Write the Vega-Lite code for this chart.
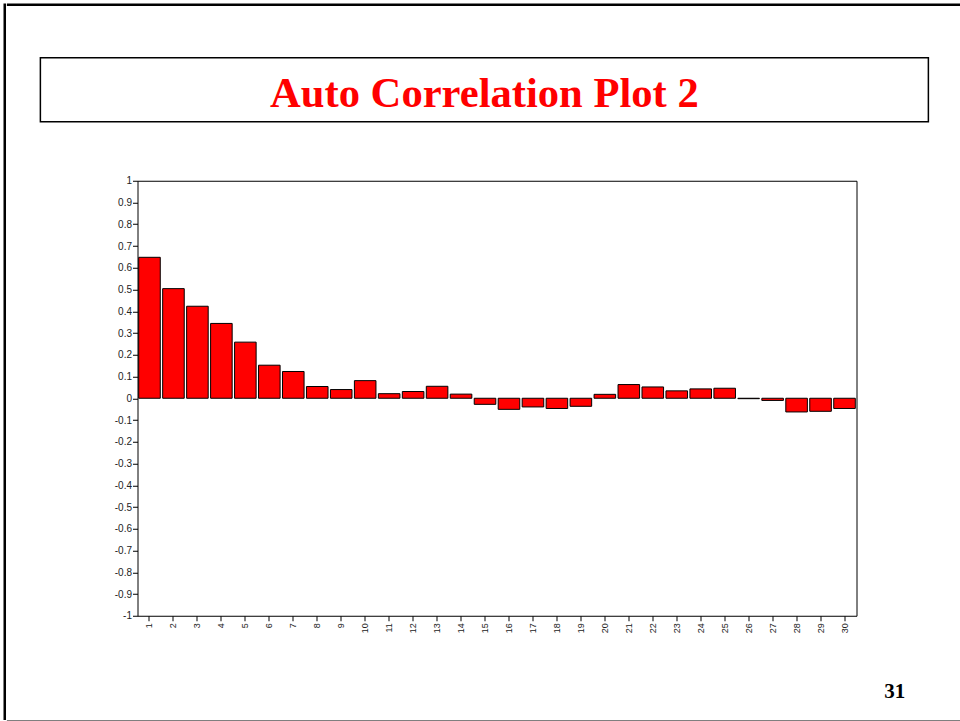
{
  "$schema": "https://vega.github.io/schema/vega-lite/v6.json",
  "padding": {"left": 2.75, "top": 2.75, "right": 0, "bottom": 0},
  "background": "white",
  "config": {
    "view": {"stroke": null},
    "axis": {"labelFont": "Liberation Sans", "labelColor": "#222222", "tickColor": "#000000", "domain": false, "grid": false}
  },
  "datasets": {
    "acf": [
      {"lag": 1, "acf": 0.648}, {"lag": 2, "acf": 0.504}, {"lag": 3, "acf": 0.423},
      {"lag": 4, "acf": 0.344}, {"lag": 5, "acf": 0.258}, {"lag": 6, "acf": 0.152},
      {"lag": 7, "acf": 0.123}, {"lag": 8, "acf": 0.054}, {"lag": 9, "acf": 0.04},
      {"lag": 10, "acf": 0.081}, {"lag": 11, "acf": 0.021}, {"lag": 12, "acf": 0.031},
      {"lag": 13, "acf": 0.055}, {"lag": 14, "acf": 0.019}, {"lag": 15, "acf": -0.028},
      {"lag": 16, "acf": -0.051}, {"lag": 17, "acf": -0.04}, {"lag": 18, "acf": -0.047},
      {"lag": 19, "acf": -0.037}, {"lag": 20, "acf": 0.018}, {"lag": 21, "acf": 0.063},
      {"lag": 22, "acf": 0.052}, {"lag": 23, "acf": 0.034}, {"lag": 24, "acf": 0.043},
      {"lag": 25, "acf": 0.046}, {"lag": 26, "acf": -0.002}, {"lag": 27, "acf": -0.01},
      {"lag": 28, "acf": -0.063}, {"lag": 29, "acf": -0.06}, {"lag": 30, "acf": -0.047}
    ],
    "blank": []
  },
  "spacing": 0,
  "hconcat": [
    {
      "width": 0.01, "height": 714,
      "view": {"stroke": "black", "strokeWidth": 2.5},
      "data": {"name": "blank"},
      "mark": {"type": "text", "text": ""},
      "encoding": {}
    },
    {
      "spacing": 0,
      "center": true,
      "vconcat": [
        {
          "width": 952, "height": 0.01,
          "view": {"stroke": "black", "strokeWidth": 2.5},
          "data": {"name": "blank"},
          "mark": {"type": "text", "text": ""},
          "encoding": {}
        },
        {
          "width": 888, "height": 50,
          "data": {"name": "blank"},
          "mark": {"type": "text", "text": ""},
          "encoding": {}
        },
        {
          "width": 888, "height": 64,
          "view": {"stroke": "black", "strokeWidth": 1.5},
          "title": {
            "text": "Auto Correlation Plot 2",
            "orient": "bottom", "anchor": "middle", "frame": "group",
            "offset": -15, "baseline": "alphabetic",
            "font": "Liberation Serif", "fontWeight": "bold", "fontSize": 42.6, "color": "#FF0000"
          },
          "data": {"name": "blank"},
          "mark": {"type": "text", "text": ""},
          "encoding": {}
        },
        {
          "width": 888, "height": 52,
          "data": {"name": "blank"},
          "mark": {"type": "text", "text": ""},
          "encoding": {}
        },
        {
          "spacing": 0,
          "hconcat": [
            {
              "width": 0.01, "height": 435,
              "data": {"name": "blank"},
              "mark": {"type": "text", "text": ""},
              "encoding": {}
            },
            {
              "width": 719, "height": 435,
              "view": {"stroke": "black", "strokeWidth": 1},
              "data": {"name": "acf"},
              "mark": {"type": "bar", "fill": "#FF0000", "stroke": "#000000", "strokeWidth": 1},
              "encoding": {
                "x": {
                  "field": "lag", "type": "ordinal",
                  "scale": {"paddingInner": 0.1, "paddingOuter": 0.05},
                  "axis": {"title": null, "labelAngle": 270, "tickSize": 5, "labelFontSize": 9, "labelPadding": 2}
                },
                "y": {
                  "field": "acf", "type": "quantitative",
                  "scale": {"domain": [-1, 1], "nice": false},
                  "axis": {
                    "title": null,
                    "tickSize": 5, "labelFontSize": 10, "labelPadding": 1,
                    "values": [-1, -0.9, -0.8, -0.7, -0.6, -0.5, -0.4, -0.3, -0.2, -0.1, 0, 0.1, 0.2, 0.3, 0.4, 0.5, 0.6, 0.7, 0.8, 0.9, 1],
                    "labelExpr": "'' + round(datum.value * 10) / 10"
                  }
                }
              }
            }
          ]
        },
        {
          "width": 841, "height": 86,
          "title": {
            "text": "31",
            "orient": "bottom", "anchor": "end", "frame": "group",
            "offset": -22, "baseline": "alphabetic",
            "font": "Liberation Serif", "fontWeight": "bold", "fontSize": 21, "color": "#000000"
          },
          "data": {"name": "blank"},
          "mark": {"type": "text", "text": ""},
          "encoding": {}
        },
        {
          "width": 952, "height": 0.01,
          "view": {"stroke": "black", "strokeWidth": 2.5},
          "data": {"name": "blank"},
          "mark": {"type": "text", "text": ""},
          "encoding": {}
        }
      ]
    }
  ]
}
